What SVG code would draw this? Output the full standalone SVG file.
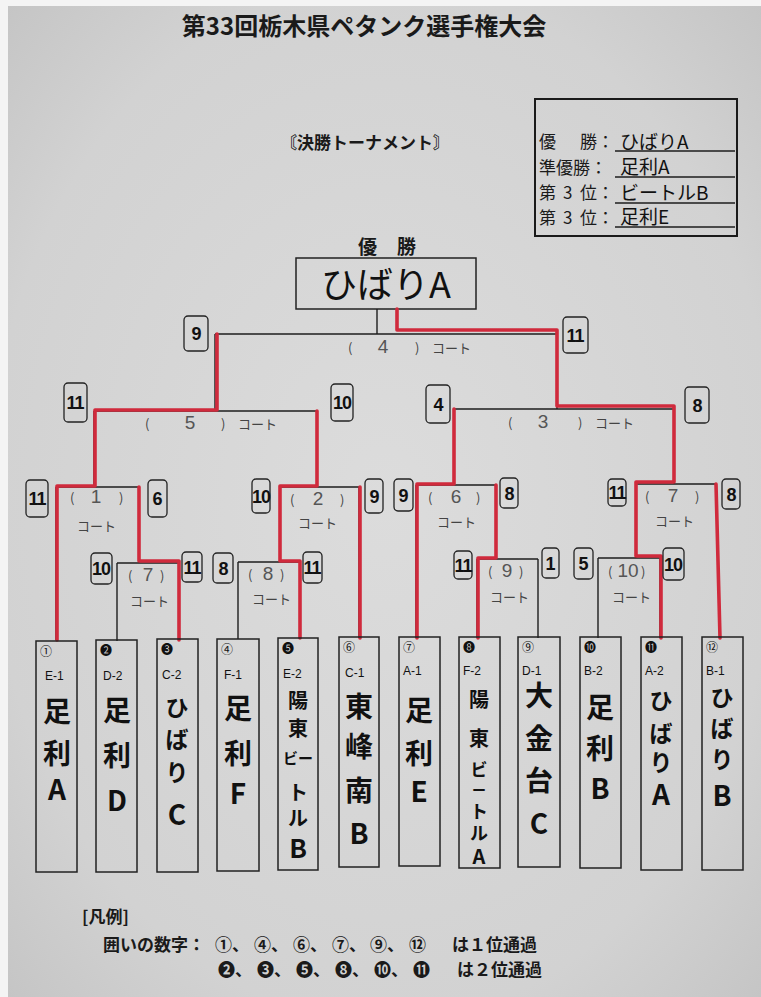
<svg xmlns="http://www.w3.org/2000/svg" width="761" height="997" viewBox="0 0 761 997">
<defs>
<radialGradient id="bg" cx="0.5" cy="0.5" r="0.75">
<stop offset="0" stop-color="#dcdcdc"/>
<stop offset="0.7" stop-color="#d2d2d2"/>
<stop offset="1" stop-color="#c2c2c2"/>
</radialGradient>
<style>
.bl{stroke:#1e1e1e;stroke-width:1.4;fill:none}
.rd{stroke:#d02a3c;stroke-width:3.6;fill:none;stroke-linejoin:round;stroke-linecap:round}
.sb{fill:none;stroke:#222;stroke-width:1.3}
.sn{font-family:"Liberation Sans",sans-serif;font-weight:bold;font-size:18px;text-anchor:middle;fill:#111;letter-spacing:-1px}
.pa{font-family:"Noto Sans CJK JP",sans-serif;font-size:13px;fill:#444}
.cn{font-family:"Liberation Sans",sans-serif;font-size:19px;fill:#555;text-anchor:middle}
.tb{fill:none;stroke:#222;stroke-width:1.5}
.nm{font-family:"Noto Sans CJK JP",sans-serif;font-size:28px;text-anchor:middle;fill:#111;font-weight:bold}
.nh{font-family:"Noto Sans CJK JP",sans-serif;font-size:23px;text-anchor:middle;fill:#111;font-weight:bold}
.nms{font-family:"Noto Sans CJK JP",sans-serif;font-size:20px;text-anchor:middle;fill:#111;font-weight:bold}
.cc{font-family:"Noto Sans CJK JP","DejaVu Sans",sans-serif;font-size:12px;fill:#111}
.cd{font-family:"Liberation Sans",sans-serif;font-size:12px;fill:#111}
.hd{font-family:"Noto Sans CJK JP",sans-serif;font-weight:bold;fill:#1a1a1a}
.lb{font-family:"Noto Sans CJK JP",sans-serif;font-size:17px;fill:#1a1a1a}
.hw{font-family:"Noto Sans CJK JP",sans-serif;font-size:19px;fill:#111}
.lg{font-family:"Noto Sans CJK JP","DejaVu Sans",sans-serif;font-size:17px;font-weight:bold;fill:#1a1a1a}
</style>
</defs>
<rect width="761" height="997" fill="#f4f4f4"/>
<rect x="8" y="6" width="753" height="991" fill="url(#bg)"/>

<text class="hd" x="364" y="35" font-size="24" text-anchor="middle">第33回栃木県ペタンク選手権大会</text>
<text class="hd" x="365" y="149" font-size="17" text-anchor="middle">〘決勝トーナメント〙</text>

<g id="result-box">
<rect x="535" y="99" width="202" height="137" fill="none" stroke="#1a1a1a" stroke-width="2"/>
<text class="lb" x="539" y="148">優<tspan x="580">勝：</tspan></text>
<text class="lb" x="539" y="174">準優勝：</text>
<text class="lb" x="539" y="199">第<tspan x="563">3</tspan><tspan x="580">位：</tspan></text>
<text class="lb" x="539" y="224">第<tspan x="563">3</tspan><tspan x="580">位：</tspan></text>
<text class="hw" x="620" y="149">ひばりA</text>
<text class="hw" x="620" y="174">足利A</text>
<text class="hw" x="620" y="200" font-size="17">ビートルB</text>
<text class="hw" x="620" y="224">足利E</text>
<path class="bl" d="M615,151H735M615,177H735M615,203H735M615,227H735"/>
</g>

<text class="hd" x="387" y="254" font-size="19" text-anchor="middle">優<tspan dx="20">勝</tspan></text>
<g id="winner">
<rect x="296" y="258" width="180" height="51" class="tb"/>
<text x="386" y="298" font-family="'Noto Sans CJK JP',sans-serif" font-size="36" text-anchor="middle" fill="#111">ひばりA</text>
</g>

<g id="connectors">
<path class="bl" d="M377,309V334M215,334H557M215,334V411M557,334V409"/>
<path class="bl" d="M94,411H317M94,411V487M317,411V487"/>
<path class="bl" d="M56,487H139M56,487V640M139,487V563"/>
<path class="bl" d="M117,563H179M117,563V641M179,563V640"/>
<path class="bl" d="M280,487H359M280,487V562M359,487V638"/>
<path class="bl" d="M238,562H300M238,562V639M300,562V638"/>
<path class="bl" d="M454,409H674M454,409V485M674,409V484"/>
<path class="bl" d="M416,485H496M416,485V638M496,485V559"/>
<path class="bl" d="M477,559H538M477,559V638M538,559V638"/>
<path class="bl" d="M636,484H716M636,484V558M716,484L720,638"/>
<path class="bl" d="M598,558H660M598,558V638M660,558V638"/>
<path class="rd" d="M57,640V486H95V410H217V334"/>
<path class="rd" d="M179,640V561H139V487"/>
<path class="rd" d="M300,638V561H280V486H317V411"/>
<path class="rd" d="M360,487V638"/>
<path class="rd" d="M661,638V556H636V482H674V406H557V330H397V309"/>
<path class="rd" d="M417,638V484H454V409"/>
<path class="rd" d="M478,638V558H496V485"/>
<path class="rd" d="M716,484L720,638"/>
</g>

<g id="courts">
<text class="pa" x="348" y="353">(<tspan class="cn" x="383">4</tspan><tspan x="415">)</tspan><tspan x="432">コート</tspan></text>
<text class="pa" x="145" y="429">(<tspan class="cn" x="190">5</tspan><tspan x="221">)</tspan><tspan x="238">コート</tspan></text>
<text class="pa" x="508" y="428">(<tspan class="cn" x="543">3</tspan><tspan x="578">)</tspan><tspan x="595">コート</tspan></text>
<text class="pa" x="70" y="503">(<tspan class="cn" x="96">1</tspan><tspan x="119">)</tspan><tspan x="77" y="531">コート</tspan></text>
<text class="pa" x="128" y="581">(<tspan class="cn" x="148">7</tspan><tspan x="160">)</tspan><tspan x="130" y="606">コート</tspan></text>
<text class="pa" x="290" y="505">(<tspan class="cn" x="318">2</tspan><tspan x="340">)</tspan><tspan x="298" y="528">コート</tspan></text>
<text class="pa" x="248" y="580">(<tspan class="cn" x="268">8</tspan><tspan x="280">)</tspan><tspan x="252" y="604">コート</tspan></text>
<text class="pa" x="428" y="503">(<tspan class="cn" x="456">6</tspan><tspan x="476">)</tspan><tspan x="437" y="527">コート</tspan></text>
<text class="pa" x="488" y="577">(<tspan class="cn" x="507">9</tspan><tspan x="519">)</tspan><tspan x="490" y="602">コート</tspan></text>
<text class="pa" x="608" y="577">(<tspan class="cn" x="628">10</tspan><tspan x="641">)</tspan><tspan x="612" y="602">コート</tspan></text>
<text class="pa" x="645" y="502">(<tspan class="cn" x="673">7</tspan><tspan x="695">)</tspan><tspan x="655" y="526">コート</tspan></text>
</g>

<g id="scores">
<rect class="sb" x="184" y="316" width="24" height="35" rx="4"/><text class="sn" x="196" y="340">9</text>
<rect class="sb" x="563" y="317" width="25" height="36" rx="4"/><text class="sn" x="575" y="342">11</text>
<rect class="sb" x="64" y="383" width="23" height="39" rx="4"/><text class="sn" x="75" y="409">11</text>
<rect class="sb" x="331" y="384" width="22" height="37" rx="4"/><text class="sn" x="342" y="409">10</text>
<rect class="sb" x="426" y="385" width="24" height="38" rx="4"/><text class="sn" x="438" y="411">4</text>
<rect class="sb" x="685" y="387" width="24" height="36" rx="4"/><text class="sn" x="697" y="412">8</text>
<rect class="sb" x="26" y="480" width="22" height="37" rx="4"/><text class="sn" x="37" y="505">11</text>
<rect class="sb" x="148" y="480" width="19" height="37" rx="4"/><text class="sn" x="157" y="505">6</text>
<rect class="sb" x="91" y="553" width="21" height="31" rx="4"/><text class="sn" x="101" y="575">10</text>
<rect class="sb" x="182" y="552" width="20" height="30" rx="4"/><text class="sn" x="192" y="574">11</text>
<rect class="sb" x="213" y="553" width="20" height="30" rx="4"/><text class="sn" x="223" y="575">8</text>
<rect class="sb" x="303" y="552" width="19" height="31" rx="4"/><text class="sn" x="312" y="574">11</text>
<rect class="sb" x="252" y="479" width="18" height="34" rx="4"/><text class="sn" x="261" y="503">10</text>
<rect class="sb" x="365" y="479" width="18" height="34" rx="4"/><text class="sn" x="374" y="503">9</text>
<rect class="sb" x="394" y="479" width="19" height="32" rx="4"/><text class="sn" x="403" y="502">9</text>
<rect class="sb" x="500" y="478" width="18" height="30" rx="4"/><text class="sn" x="509" y="500">8</text>
<rect class="sb" x="454" y="551" width="18" height="28" rx="4"/><text class="sn" x="463" y="572">11</text>
<rect class="sb" x="542" y="548" width="17" height="30" rx="4"/><text class="sn" x="550" y="570">1</text>
<rect class="sb" x="574" y="548" width="19" height="31" rx="4"/><text class="sn" x="583" y="570">5</text>
<rect class="sb" x="663" y="548" width="21" height="32" rx="4"/><text class="sn" x="673" y="571">10</text>
<rect class="sb" x="608" y="479" width="18" height="27" rx="4"/><text class="sn" x="617" y="499">11</text>
<rect class="sb" x="722" y="479" width="18" height="30" rx="4"/><text class="sn" x="731" y="501">8</text>
</g>

<g id="t1"><rect class="tb" x="36" y="641" width="41" height="231"/><text class="cc" x="40" y="656">①</text><text class="cd" x="45" y="680">E-1</text>
<text class="nm"><tspan x="57" y="722">足</tspan><tspan x="57" y="764">利</tspan><tspan x="57" y="800">A</tspan></text></g>
<g id="t2"><rect class="tb" x="96" y="640" width="41" height="232"/><text class="cc" x="100" y="655">❷</text><text class="cd" x="103" y="680">D-2</text>
<text class="nm"><tspan x="117" y="721">足</tspan><tspan x="117" y="766">利</tspan><tspan x="117" y="811">D</tspan></text></g>
<g id="t3"><rect class="tb" x="157" y="639" width="41" height="233"/><text class="cc" x="161" y="654">❸</text><text class="cd" x="162" y="679">C-2</text>
<text class="nh"><tspan x="177" y="716">ひ</tspan><tspan x="177" y="748">ば</tspan><tspan x="177" y="781">り</tspan><tspan x="177" y="825" font-size="28">C</tspan></text></g>
<g id="t4"><rect class="tb" x="217" y="639" width="42" height="232"/><text class="cc" x="221" y="654">④</text><text class="cd" x="224" y="679">F-1</text>
<text class="nm"><tspan x="238" y="719">足</tspan><tspan x="238" y="764">利</tspan><tspan x="238" y="804">F</tspan></text></g>
<g id="t5"><rect class="tb" x="278" y="638" width="40" height="232"/><text class="cc" x="282" y="653">❺</text><text class="cd" x="283" y="678">E-2</text>
<text class="nms"><tspan x="298" y="708">陽</tspan><tspan x="298" y="736">東</tspan><tspan x="298" y="764" font-size="15">ビー</tspan><tspan x="298" y="800">ト</tspan><tspan x="298" y="826">ル</tspan><tspan x="298" y="858" font-size="26">B</tspan></text></g>
<g id="t6"><rect class="tb" x="339" y="637" width="40" height="230"/><text class="cc" x="343" y="652">⑥</text><text class="cd" x="345" y="677">C-1</text>
<text class="nm"><tspan x="359" y="717">東</tspan><tspan x="359" y="757">峰</tspan><tspan x="359" y="801">南</tspan><tspan x="359" y="844">B</tspan></text></g>
<g id="t7"><rect class="tb" x="399" y="637" width="41" height="229"/><text class="cc" x="403" y="652">⑦</text><text class="cd" x="403" y="675">A-1</text>
<text class="nm"><tspan x="419" y="721">足</tspan><tspan x="419" y="764">利</tspan><tspan x="419" y="802">E</tspan></text></g>
<g id="t8"><rect class="tb" x="459" y="637" width="41" height="231"/><text class="cc" x="463" y="652">❽</text><text class="cd" x="463" y="675">F-2</text>
<text class="nms"><tspan x="479" y="707">陽</tspan><tspan x="479" y="746">東</tspan><tspan x="479" y="776" font-size="17">ビ</tspan><tspan x="479" y="795" font-size="14">ー</tspan><tspan x="479" y="818" font-size="18">ト</tspan><tspan x="479" y="840" font-size="18">ル</tspan><tspan x="479" y="864">A</tspan></text></g>
<g id="t9"><rect class="tb" x="518" y="637" width="42" height="230"/><text class="cc" x="522" y="652">⑨</text><text class="cd" x="522" y="675">D-1</text>
<text class="nm"><tspan x="539" y="706">大</tspan><tspan x="539" y="749">金</tspan><tspan x="539" y="791">台</tspan><tspan x="539" y="834">C</tspan></text></g>
<g id="t10"><rect class="tb" x="580" y="637" width="41" height="231"/><text class="cc" x="584" y="652">❿</text><text class="cd" x="584" y="675">B-2</text>
<text class="nm"><tspan x="600" y="718">足</tspan><tspan x="600" y="759">利</tspan><tspan x="600" y="799">B</tspan></text></g>
<g id="t11"><rect class="tb" x="641" y="637" width="41" height="233"/><text class="cc" x="645" y="652">⓫</text><text class="cd" x="645" y="675">A-2</text>
<text class="nh"><tspan x="661" y="709">ひ</tspan><tspan x="661" y="742">ば</tspan><tspan x="661" y="771">り</tspan><tspan x="661" y="805" font-size="28">A</tspan></text></g>
<g id="t12"><rect class="tb" x="702" y="637" width="41" height="233"/><text class="cc" x="706" y="652">⑫</text><text class="cd" x="706" y="675">B-1</text>
<text class="nh"><tspan x="722" y="706">ひ</tspan><tspan x="722" y="737">ば</tspan><tspan x="722" y="768">り</tspan><tspan x="722" y="806" font-size="28">B</tspan></text></g>

<g id="legend">
<text class="lg" x="82" y="923" font-weight="normal">[凡例]</text>
<text class="lg" x="103" y="951">囲いの数字：</text>
<text class="lg" x="215" y="951">①、<tspan x="254">④、</tspan><tspan x="293">⑥、</tspan><tspan x="332">⑦、</tspan><tspan x="370">⑨、</tspan><tspan x="409">⑫</tspan><tspan x="452">は１位通過</tspan></text>
<text class="lg" x="218" y="976">❷、<tspan x="257">❸、</tspan><tspan x="296">❺、</tspan><tspan x="335">❽、</tspan><tspan x="374">❿、</tspan><tspan x="413">⓫</tspan><tspan x="457">は２位通過</tspan></text>
</g>
</svg>
